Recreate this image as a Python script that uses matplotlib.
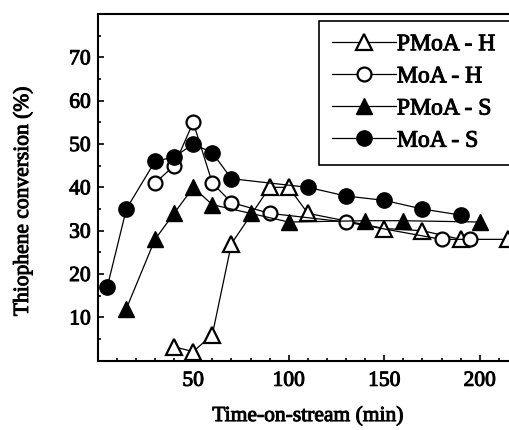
import matplotlib
matplotlib.use("Agg")
import matplotlib.pyplot as plt
import matplotlib.patheffects as pe
from matplotlib.ticker import MultipleLocator

# Data
pmoa_h_x = [40, 50, 60, 70, 90, 100, 110, 150, 170, 190, 215]
pmoa_h_y = [3.2, 2.1, 6, 27, 40, 40, 34, 30.5, 30, 28, 28]

moa_h_x = [30, 40, 50, 60, 70, 90, 130, 180, 195]
moa_h_y = [41, 45, 55, 41, 36.5, 34, 32, 28, 28]

pmoa_s_x = [15, 30, 40, 50, 60, 80, 100, 140, 160, 200]
pmoa_s_y = [12, 28, 34, 40, 36, 34, 32, 32.3, 32.3, 32]

moa_s_x = [5, 15, 30, 40, 50, 60, 70, 110, 130, 150, 170, 190]
moa_s_y = [17, 35, 46, 47, 50, 48, 42, 40, 38, 37, 35, 33.6]

labels = ["PMoA - H", "MoA - H", "PMoA - S", "MoA - S"]
yticks = [10, 20, 30, 40, 50, 60, 70]
xticks = [50, 100, 150, 200]

plt.rcParams['font.family'] = ['Liberation Serif', 'DejaVu Serif']

fig = plt.figure(figsize=(5.09, 4.30), dpi=100)
W, H = 509, 430
left = 97.7 / W
right_px = 518
ax = fig.add_axes([left, 1 - 360.7 / H, (right_px - 97.7) / W, (360.7 - 14) / H])

ms = 11
lw = 0.9
ax.plot(pmoa_h_x, pmoa_h_y, '-', color='black', lw=lw, marker='^', ms=ms,
        mfc='white', mec='black', mew=1.6, label=labels[0], clip_on=False)
ax.plot(moa_h_x, moa_h_y, '-', color='black', lw=lw, marker='o', ms=ms - 1,
        mfc='white', mec='black', mew=1.6, label=labels[1])
ax.plot(pmoa_s_x, pmoa_s_y, '-', color='black', lw=lw, marker='^', ms=ms,
        mfc='black', mec='black', label=labels[2])
ax.plot(moa_s_x, moa_s_y, '-', color='black', lw=lw, marker='o', ms=ms,
        mfc='black', mec='black', label=labels[3])

ax.set_xlim(0, 220)
ax.set_ylim(0, 80)
ax.set_xticks(xticks)
ax.set_yticks(yticks)
ax.xaxis.set_minor_locator(MultipleLocator(10))
ax.yaxis.set_minor_locator(MultipleLocator(5))
ax.tick_params(which='both', direction='in', top=False, right=False, width=1.2)
ax.tick_params(which='major', length=4)
ax.tick_params(which='minor', length=2.5)
ax.tick_params(axis='x', which='major', pad=8, labelsize=15.5)
ax.tick_params(axis='y', which='major', pad=5, labelsize=15.5)

for s in ax.spines.values():
    s.set_linewidth(1.5)
ax.spines['right'].set_visible(False)

ax.set_xlabel("Time-on-stream (min)", fontsize=15.5)
ax.set_ylabel("Thiophene conversion (%)", fontsize=15.5)
ax.xaxis.set_label_coords(0.5, -0.133)
ax.yaxis.set_label_coords(-0.154, 0.46)

leg = fig.legend(loc='upper left', bbox_to_anchor=(319 / W, 1 - 20.7 / H, 0.40, 0.0),
                 mode='expand',
                 fancybox=False, edgecolor='black', framealpha=1,
                 prop={'size': 17}, handlelength=2.7,
                 handletextpad=0.05, labelspacing=0.45, borderpad=0.55,
                 borderaxespad=0)
leg.get_frame().set_linewidth(1.2)

heavy = [pe.withStroke(linewidth=0.7, foreground='black')]
texts = (ax.get_xticklabels() + ax.get_yticklabels() +
         [ax.xaxis.label, ax.yaxis.label] + leg.get_texts())
for t in texts:
    t.set_path_effects(heavy)

fig.savefig("out.png", dpi=100)
